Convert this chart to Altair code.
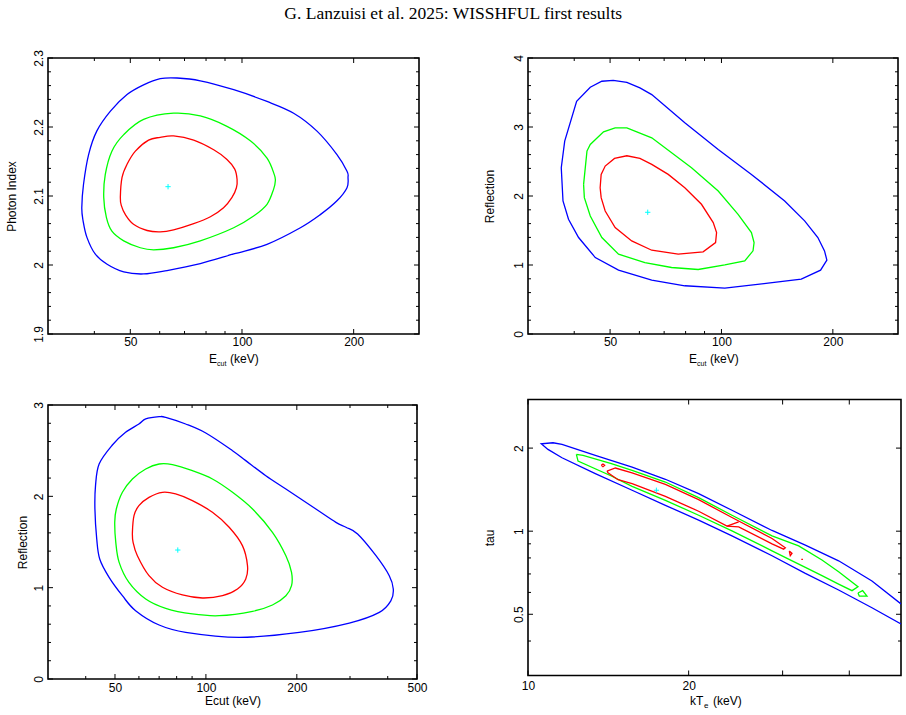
import altair as alt
import pandas as pd

TITLE = "G. Lanzuisi et al. 2025: WISSHFUL first results"

# ---------------- Panel 1: Photon index vs Ecut ----------------
p1_blue_ecut = [37.0, 37.4, 38.6, 40.6, 44.2, 49.0, 54.3, 60.2, 66.8, 77.2, 95.0, 116.8, 137.8, 159.3, 180.3, 191.9,
                193.1, 191.9, 180.3, 162.6, 143.7, 116.8, 95.0, 77.2, 62.8, 54.3, 48.0, 43.3, 40.2, 38.2, 37.3]
p1_blue_gamma = [2.083, 2.117, 2.160, 2.194, 2.223, 2.247, 2.261, 2.270, 2.271, 2.267, 2.254, 2.237, 2.220, 2.194, 2.160,
                 2.136, 2.127, 2.112, 2.093, 2.073, 2.054, 2.030, 2.016, 2.002, 1.992, 1.987, 1.990, 2.001, 2.016, 2.040, 2.064]
p1_green_ecut = [42.4, 42.8, 44.6, 48.0, 54.3, 65.4, 77.2, 91.1, 105.3, 116.8, 122.2, 123.0, 121.7, 116.8, 107.5, 95.0,
                 77.2, 65.4, 57.8, 53.2, 48.0, 44.6, 43.1]
p1_green_gamma = [2.098, 2.131, 2.165, 2.189, 2.211, 2.220, 2.216, 2.201, 2.180, 2.155, 2.131, 2.122, 2.110, 2.088, 2.071,
                  2.054, 2.035, 2.025, 2.022, 2.025, 2.035, 2.049, 2.069]
p1_red_ecut = [47.0, 47.5, 49.0, 51.6, 56.0, 60.2, 65.4, 74.1, 83.9, 91.1, 95.6, 97.0, 96.6, 94.0, 89.2, 82.2, 74.1,
               65.4, 60.2, 55.5, 51.0, 48.5, 47.3]
p1_red_gamma = [2.098, 2.127, 2.146, 2.165, 2.181, 2.185, 2.187, 2.181, 2.167, 2.153, 2.139, 2.124, 2.112, 2.098, 2.083,
                2.070, 2.060, 2.051, 2.048, 2.050, 2.059, 2.073, 2.086]
p1_best = (63.2, 2.1135)

# ---------------- Panel 2: Reflection vs Ecut ----------------
p2_blue_ecut = [36.9, 37.7, 40.6, 44.2, 47.5, 51.0, 55.5, 60.2, 64.8, 79.6, 98.0, 120.5, 148.2, 167.8, 182.2, 189.9,
                192.7, 185.3, 164.3, 133.6, 102.1, 79.6, 64.8, 52.7, 45.6, 41.1, 38.6, 37.3]
p2_blue_refl = [2.410, 2.795, 3.373, 3.576, 3.663, 3.677, 3.648, 3.566, 3.470, 3.060, 2.675, 2.313, 1.928, 1.639, 1.398,
                1.205, 1.070, 0.925, 0.795, 0.737, 0.665, 0.699, 0.781, 0.925, 1.108, 1.398, 1.663, 1.928]
p2_green_ecut = [42.4, 43.3, 44.2, 48.0, 51.6, 55.5, 64.8, 83.0, 98.0, 110.9, 120.5, 122.5, 121.7, 115.6, 102.1, 86.5,
                 73.3, 62.1, 52.7, 47.5, 44.2, 42.6]
p2_green_refl = [2.169, 2.651, 2.747, 2.930, 2.988, 2.988, 2.843, 2.410, 2.072, 1.735, 1.470, 1.325, 1.205, 1.060, 1.002,
                 0.935, 0.964, 1.036, 1.157, 1.398, 1.711, 1.976]
p2_red_ecut = [47.0, 47.3, 48.5, 51.4, 55.5, 60.2, 64.8, 71.8, 79.6, 88.3, 95.0, 97.0, 96.4, 89.2, 76.4, 64.8, 57.2,
               51.6, 48.5, 47.3]
p2_red_refl = [2.120, 2.313, 2.434, 2.545, 2.583, 2.545, 2.458, 2.313, 2.120, 1.880, 1.614, 1.470, 1.325, 1.190, 1.157,
               1.214, 1.349, 1.542, 1.783, 1.976]
p2_best = (63.2, 1.764)

# ---------------- Panel 3: Reflection vs Ecut (second fit) ----------------
p3_blue_ecut = [49.0, 54.2, 60.0, 63.2, 70.0, 73.6, 85.7, 99.9, 122.5, 135.5, 157.9, 184.0, 231.3, 269.5, 290.9, 317.9,
                365.7, 404.7, 417.3, 409.9, 375.1, 298.4, 203.7, 128.8, 85.7, 70.0, 58.5, 52.9, 47.8, 44.5, 43.5, 42.9,
                43.1, 44.3]
p3_blue_refl = [2.562, 2.701, 2.792, 2.847, 2.872, 2.865, 2.792, 2.693, 2.500, 2.391, 2.226, 2.080, 1.861, 1.715, 1.661,
                1.588, 1.350, 1.131, 0.985, 0.858, 0.730, 0.613, 0.511, 0.456, 0.511, 0.591, 0.748, 0.912, 1.113, 1.314,
                1.533, 1.861, 2.117, 2.354]
p3_green_ecut = [49.9, 50.5, 52.9, 57.1, 63.2, 70.0, 77.5, 90.2, 105.1, 122.5, 142.7, 166.1, 184.0, 192.1, 192.1, 184.0,
                 166.1, 142.7, 110.6, 90.2, 73.6, 63.2, 55.6, 51.6, 50.3]
p3_green_refl = [1.715, 1.861, 2.044, 2.190, 2.299, 2.354, 2.347, 2.281, 2.190, 2.044, 1.861, 1.606, 1.350, 1.168, 1.022,
                 0.912, 0.810, 0.741, 0.693, 0.712, 0.774, 0.876, 1.058, 1.277, 1.496]
p3_red_ecut = [57.1, 57.8, 60.0, 64.8, 71.8, 79.4, 90.2, 105.1, 119.4, 132.1, 137.3, 135.5, 127.2, 113.5, 97.4, 83.6,
               71.8, 64.8, 59.3, 57.4]
p3_red_refl = [1.606, 1.788, 1.898, 1.989, 2.044, 2.026, 1.953, 1.825, 1.661, 1.460, 1.241, 1.095, 0.985, 0.912, 0.887,
               0.920, 1.004, 1.131, 1.350, 1.496]
p3_best = (80.7, 1.412)

# ---------------- Panel 4: tau vs kTe ----------------
p4_blue_kt = [50.0, 44.11, 38.20, 33.09, 28.66, 24.11, 20.88, 18.09, 15.67, 13.37, 11.58, 11.14, 10.59, 10.90, 11.58,
              13.37, 15.67, 18.09, 20.88, 24.11, 28.66, 33.09, 38.20, 44.11, 50.0]
p4_blue_tau = [0.545, 0.660, 0.781, 0.890, 1.006, 1.191, 1.368, 1.542, 1.708, 1.882, 2.062, 2.091, 2.073, 1.978, 1.845,
               1.616, 1.407, 1.241, 1.096, 0.962, 0.815, 0.703, 0.612, 0.528, 0.461]
p4_green_kt = [12.32, 12.68, 14.33, 15.67, 18.09, 20.88, 24.11, 28.66, 32.15, 35.55, 38.20, 41.53, 40.47, 38.20, 35.55,
               33.09, 30.79, 28.66, 24.11, 20.88, 18.09, 15.67, 14.33, 12.41]
p4_green_tau = [1.897, 1.882, 1.756, 1.661, 1.507, 1.323, 1.142, 0.962, 0.885, 0.786, 0.713, 0.629, 0.609, 0.643, 0.690,
                0.739, 0.792, 0.849, 1.003, 1.142, 1.294, 1.454, 1.585, 1.795]
p4_green_island_kt = [41.53, 42.37, 43.17, 41.77]
p4_green_island_tau = [0.597, 0.609, 0.582, 0.582]
p4_red_kt = [14.06, 14.58, 15.67, 18.09, 20.88, 24.11, 28.66, 30.35, 30.13, 28.66, 24.82, 23.60, 20.88, 18.09, 15.67,
             14.75, 14.12]
p4_red_tau = [1.652, 1.694, 1.625, 1.478, 1.301, 1.121, 0.941, 0.871, 0.861, 0.900, 1.037, 1.043, 1.181, 1.338, 1.487,
              1.537, 1.629]
p4_red_bar_kt = [23.60, 24.82]
p4_red_bar_tau = [1.043, 1.081]
p4_red_isl1_kt = [13.72, 13.82, 13.92, 13.82]
p4_red_isl1_tau = [1.732, 1.751, 1.732, 1.713]
p4_red_isl2_kt = [30.88, 31.24, 31.01]
p4_red_isl2_tau = [0.847, 0.831, 0.815]
p4_red_dot_kt = [32.52, 32.75]
p4_red_dot_tau = [0.790, 0.790]
p4_best = (17.40, 1.407)

# ---------------- axis tick values ----------------
ecut_major = [50, 100, 200]
ecut_minor = [40, 60, 70, 80, 90]
ecut3_major = [50, 100, 200, 500]
ecut3_minor = [40, 60, 70, 80, 90, 300, 400]
gamma_major = [1.9, 2.0, 2.1, 2.2, 2.3]
gamma_minor = [1.92, 1.94, 1.96, 1.98, 2.02, 2.04, 2.06, 2.08, 2.12, 2.14, 2.16, 2.18, 2.22, 2.24, 2.26, 2.28]
refl2_major = [0, 1, 2, 3, 4]
refl2_minor = [0.2, 0.4, 0.6, 0.8, 1.2, 1.4, 1.6, 1.8, 2.2, 2.4, 2.6, 2.8, 3.2, 3.4, 3.6, 3.8]
refl3_major = [0, 1, 2, 3]
refl3_minor = [0.2, 0.4, 0.6, 0.8, 1.2, 1.4, 1.6, 1.8, 2.2, 2.4, 2.6, 2.8]
kt_major = [10, 20, 30, 40]
kt_labelled = [10, 20]
kt_minor = []
tau_major = [0.5, 1, 2]
tau_minor = [0.4, 0.6, 0.7, 0.8, 0.9]

FONT = "Liberation Sans"
COLOR_DOMAIN = ["blue", "green", "red"]
COLOR_RANGE = ["#0000ff", "#00ff00", "#ff0000"]
CYAN = "#00ffff"
MAJ, MIN = 5, 3


def build(pieces, close):
    rows = []
    for seg, (col, xs, ys, closed) in enumerate(pieces):
        pts = list(zip(xs, ys))
        if closed and close:
            pts = pts + [pts[0]]
        for i, (x, y) in enumerate(pts):
            rows.append(dict(x=x, y=y, c=col, seg=seg, o=i))
    return pd.DataFrame(rows)


def label_axis(orient, values, title, **kw):
    base = dict(orient=orient, values=values, ticks=False, domain=False, grid=False,
                labels=True, format="~g", labelFont=FONT, labelFontSize=12, labelColor="#000",
                labelFlush=False, labelOverlap=False,
                titleFont=FONT, titleFontSize=12, titleFontWeight="normal", titleColor="#000", title=title)
    base.update(kw)
    return alt.Axis(**base)


def txt(s, x, y, size=12):
    return alt.Chart(pd.DataFrame({"a": [0]})).mark_text(
        text=s, font=FONT, fontSize=size, align="left", baseline="alphabetic", color="#000"
    ).encode(x=alt.value(x), y=alt.value(y))


def tick_layers(xsc, ysc, xmaj, xmin, ymaj, ymin, w, h):
    out = []
    for vals, ln in ((xmaj, MAJ), (xmin, MIN)):
        if vals:
            base = alt.Chart(pd.DataFrame({"v": vals})).mark_rule(color="#000", strokeWidth=1)
            xe = alt.X("v:Q", scale=xsc, axis=None)
            out.append(base.encode(x=xe, y=alt.value(h), y2=alt.value(h - ln)))
            out.append(base.encode(x=xe, y=alt.value(0), y2=alt.value(ln)))
    for vals, ln in ((ymaj, MAJ), (ymin, MIN)):
        if vals:
            base = alt.Chart(pd.DataFrame({"v": vals})).mark_rule(color="#000", strokeWidth=1)
            ye = alt.Y("v:Q", scale=ysc, axis=None)
            out.append(base.encode(y=ye, x=alt.value(0), x2=alt.value(ln)))
            out.append(base.encode(y=ye, x=alt.value(w), x2=alt.value(w - ln)))
    return out


def panel(df, best, xsc, ysc, xmaj, xmin, ymaj, ymin, w, h, interp, xtitle, ytitle, ytp,
          xlab=None, xpad=2, extra=()):
    color = alt.Color("c:N", scale=alt.Scale(domain=COLOR_DOMAIN, range=COLOR_RANGE), legend=None)
    lines = alt.Chart(df).mark_line(strokeWidth=1.3, interpolate=interp, clip=True).encode(
        x=alt.X("x:Q", scale=xsc, axis=label_axis("bottom", xlab or xmaj, xtitle, labelPadding=xpad,
                                                   titlePadding=2)),
        y=alt.Y("y:Q", scale=ysc, axis=label_axis("left", ymaj, ytitle, labelAngle=-90, labelAlign="center",
                                                   labelBaseline="bottom", labelPadding=3, titlePadding=ytp)),
        color=color, detail="seg:N", order="o:Q")
    bdf = pd.DataFrame({"x": [best[0]], "y": [best[1]]})
    cross = alt.Chart(bdf).mark_point(shape="M-1,0H1M0,-1V1", size=28, filled=False, stroke=CYAN,
                                      strokeWidth=1, opacity=1).encode(
        x=alt.X("x:Q", scale=xsc, axis=None),
        y=alt.Y("y:Q", scale=ysc, axis=None))
    ticks = tick_layers(xsc, ysc, xmaj, xmin, ymaj, ymin, w, h)
    return alt.layer(lines, cross, *ticks, *extra).resolve_axis(
        x="independent", y="independent").properties(width=w, height=h)


# ---------------- build panels ----------------
df1 = build([("blue", p1_blue_ecut, p1_blue_gamma, True),
             ("green", p1_green_ecut, p1_green_gamma, True),
             ("red", p1_red_ecut, p1_red_gamma, True)], close=False)
df2 = build([("blue", p2_blue_ecut, p2_blue_refl, True),
             ("green", p2_green_ecut, p2_green_refl, True),
             ("red", p2_red_ecut, p2_red_refl, True)], close=True)
df3 = build([("blue", p3_blue_ecut, p3_blue_refl, True),
             ("green", p3_green_ecut, p3_green_refl, True),
             ("red", p3_red_ecut, p3_red_refl, True)], close=False)
df4 = build([("blue", p4_blue_kt, p4_blue_tau, False),
             ("green", p4_green_kt, p4_green_tau, True),
             ("green", p4_green_island_kt, p4_green_island_tau, True),
             ("red", p4_red_kt, p4_red_tau, True),
             ("red", p4_red_bar_kt, p4_red_bar_tau, False),
             ("red", p4_red_isl1_kt, p4_red_isl1_tau, True),
             ("red", p4_red_isl2_kt, p4_red_isl2_tau, True),
             ("red", p4_red_dot_kt, p4_red_dot_tau, False)], close=True)

W1, H1 = 371, 276
W2, H2 = 370, 276
W3, H3 = 369, 274
W4, H4 = 373, 276


def ecut_title(h):
    return [txt("E", 161, h + 28.5), txt("cut", 169, h + 31.5, 7), txt("(keV)", 182, h + 28.5)]


p1 = panel(df1, p1_best,
           alt.Scale(type="log", domain=[30, 300], nice=False),
           alt.Scale(domain=[1.9, 2.3], nice=False, zero=False),
           ecut_major, ecut_minor, gamma_major, gamma_minor, W1, H1, "cardinal-closed",
           None, "Photon Index", 14, extra=ecut_title(H1))
p2 = panel(df2, p2_best,
           alt.Scale(type="log", domain=[30, 300], nice=False),
           alt.Scale(domain=[0, 4], nice=False, zero=False),
           ecut_major, ecut_minor, refl2_major, refl2_minor, W2, H2, "linear",
           None, "Reflection", 16, extra=ecut_title(H2))
p3 = panel(df3, p3_best,
           alt.Scale(type="log", domain=[30, 500], nice=False),
           alt.Scale(domain=[0, 3], nice=False, zero=False),
           ecut3_major, ecut3_minor, refl3_major, refl3_minor, W3, H3, "cardinal-closed",
           "Ecut (keV)", "Reflection", 3, xpad=3)
p4 = panel(df4, p4_best,
           alt.Scale(type="log", domain=[10, 50], nice=False),
           alt.Scale(type="log", domain=[0.3, 3], nice=False),
           kt_major, kt_minor, tau_major, tau_minor, W4, H4, "linear",
           None, "tau", 16, xlab=kt_labelled, xpad=5,
           extra=[txt("kT", 162, H4 + 29), txt("e", 176, H4 + 32.5, 8), txt("(keV)", 185, H4 + 29)])

chart = alt.hconcat(
    alt.vconcat(p1, p3, spacing=32),
    alt.vconcat(p2, p4, spacing=29.5),
    spacing=54,
).properties(
    title=alt.TitleParams(TITLE, font="Liberation Serif", fontSize=17.5, fontWeight="normal",
                          anchor="middle", color="#000", offset=26),
    padding={"left": 4, "top": 5, "right": 0, "bottom": 0},
    background="white",
).configure_view(stroke="#000", strokeWidth=1.6)

chart.save("out.html", embed_options={"renderer": "svg", "actions": False})
